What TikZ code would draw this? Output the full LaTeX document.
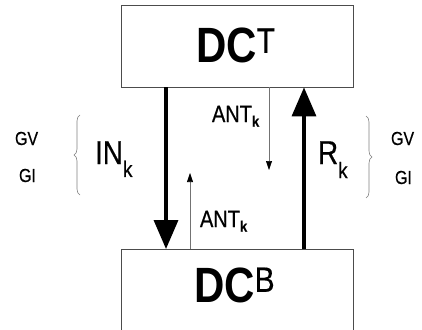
\documentclass[tikz,border=0pt]{standalone}
\usepackage{fontspec}
\setmainfont{Liberation Sans}
\newfontfamily\medfont[FakeBold=0.45]{Liberation Sans}
\newfontfamily\supfont[FakeBold=0.3]{Liberation Sans}
\usepackage{graphicx}
\usetikzlibrary{arrows.meta,decorations.pathreplacing}
\newcommand{\nt}[1]{\scalebox{1}[1.18]{#1}}
\tikzset{
  boxnode/.style={draw=black!70, line width=0.8pt, inner sep=0pt, fill=white},
  txt/.style={anchor=base west, inner sep=0pt, outer sep=0pt},
  bigarrow/.style={line width=3.5pt, -{Triangle[width=24pt,length=29pt]}},
  smallarrow/.style={line width=0.6pt, draw=black!55, -{Triangle[width=6pt,length=9pt,color=black]}},
  bracestyle/.style={draw=black!50, line width=0.6pt, decorate, decoration={brace, amplitude=6pt}}
}
\begin{document}
\begin{tikzpicture}[x=1pt,y=-1pt]
\useasboundingbox (0,0) rectangle (422,329);
\clip (0,0) rectangle (422,329);
\fill[white] (0,0) rectangle (422,329);
% boxes
\node[boxnode, minimum width=232pt, minimum height=82pt] (top) at (237,46) {};
\node[boxnode, minimum width=232pt, minimum height=120pt, anchor=north] (bot) at (237,249) {};
% box labels
\node[txt] (dct) at (196,63) {\nt{\fontsize{42}{42}\selectfont\bfseries DC\raisebox{8.6pt}{\fontsize{30}{30}\selectfont\supfont\mdseries T}}};
\node[txt] (dcb) at (194,302) {\nt{\fontsize{42}{42}\selectfont\bfseries DC\raisebox{8.6pt}{\fontsize{30}{30}\selectfont\supfont\mdseries B}}};
% thick arrows
\draw[bigarrow] ([xshift=-71pt]top.south) -- ([xshift=-71pt]bot.north);
\draw[bigarrow] ([xshift=67pt]bot.north) -- ([xshift=67pt]top.south);
% thin arrows
\coordinate (d1) at (269,170);
\coordinate (u1) at (190,173);
\draw[smallarrow] ([xshift=32pt]top.south) -- (d1);
\draw[smallarrow] ([xshift=-47pt]bot.north) -- (u1);
% labels
\node[txt] (ink) at (95,164) {\nt{\medfont\fontsize{28}{28}\selectfont IN\raisebox{-11pt}{\fontsize{19}{19}\selectfont k}}};
\node[txt] (rk) at (318,164) {\nt{\medfont\fontsize{28}{28}\selectfont R\raisebox{-12pt}{\fontsize{19}{19}\selectfont k}}};
\node[txt] (ant1) at (212,122) {\nt{\medfont\fontsize{20}{20}\selectfont ANT\raisebox{-4pt}{\fontsize{13}{13}\selectfont\bfseries k}}};
\node[txt] (ant2) at (200,227) {\nt{\medfont\fontsize{20}{20}\selectfont ANT\raisebox{-4pt}{\fontsize{13}{13}\selectfont\bfseries k}}};
\node[txt] (gv1) at (15,145) {\nt{\medfont\fontsize{16}{16}\selectfont GV}};
\node[txt] (gi1) at (19,182) {\nt{\medfont\fontsize{16}{16}\selectfont GI}};
\node[txt] (gv2) at (391,145) {\nt{\medfont\fontsize{16}{16}\selectfont GV}};
\node[txt] (gi2) at (395,184) {\nt{\medfont\fontsize{16}{16}\selectfont GI}};
% braces
\draw[bracestyle] (80,195) -- (80,115);
\draw[bracestyle] (366,116) -- (366,198);
\end{tikzpicture}
\end{document}
